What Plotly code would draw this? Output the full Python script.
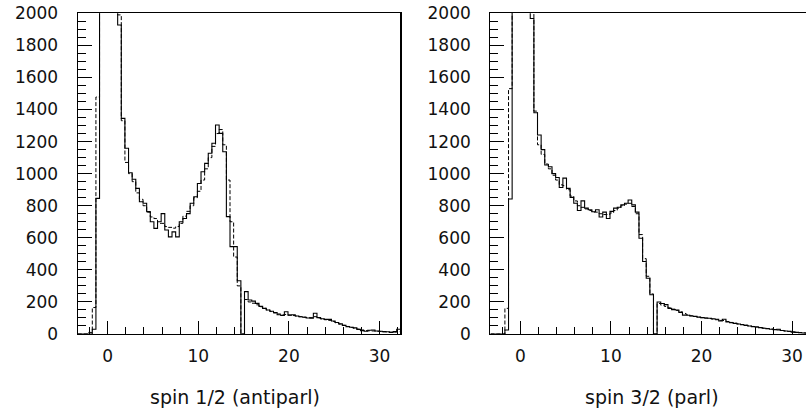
import numpy as np
import plotly.graph_objects as go

# ---------------- data ----------------
bin_lo = -3.3
bin_w = 0.4
n_bins = 89
edges = bin_lo + bin_w * np.arange(n_bins + 1)

left_solid = [0, 0, 0, 0, 30, 846, 2600, 3400, 3300, 2800, 2200, 1927, 1345, 1158, 1006,
              965, 908, 825, 815, 763, 700, 659, 700, 751, 649, 606, 637, 606, 700, 720,
              751, 815, 856, 939, 1012, 1064, 1127, 1190, 1303, 1251, 1137, 732, 545, 545,
              332, 0, 264, 212, 205, 191, 172, 160, 150, 142, 133, 120, 115, 139, 118, 120,
              112, 108, 104, 100, 98, 129, 102, 95, 91, 91, 81, 72, 63, 54, 46, 42, 38, 29,
              21, 17, 23, 25, 19, 17, 15, 14, 10, 15, 30]
left_dashed = [0, 0, 0, 10, 165, 1478, 2400, 3200, 3400, 2900, 2300, 1990, 1330, 1070, 1000,
               950, 880, 840, 800, 760, 730, 720, 690, 690, 670, 665, 660, 670, 690, 735,
               765, 800, 850, 890, 960, 1030, 1100, 1170, 1250, 1275, 1180, 960, 700, 480,
               300, 0, 215, 200, 192, 182, 170, 160, 150, 140, 132, 125, 120, 122, 118, 115,
               112, 108, 105, 103, 102, 108, 100, 94, 89, 85, 78, 70, 62, 54, 47, 41, 36, 30,
               25, 21, 20, 19, 17, 16, 14, 12, 11, 12, 15]
right_solid = [0, 0, 0, 0, 25, 842, 2500, 3500, 3600, 3000, 2300, 1968, 1380, 1241, 1150,
               1054, 1043, 1000, 976, 914, 972, 908, 852, 815, 770, 830, 785, 775, 762, 775,
               730, 760, 720, 765, 785, 790, 805, 815, 836, 805, 760, 597, 452, 348, 245, 0,
               200, 190, 183, 160, 152, 150, 135, 118, 117, 112, 110, 105, 102, 100, 98, 95,
               92, 82, 92, 75, 70, 66, 62, 58, 54, 50, 46, 44, 40, 36, 33, 30, 27, 30, 22, 19,
               17, 12, 10, 8, 6, 5, 4]
right_dashed = [0, 0, 0, 0, 160, 1530, 2400, 3300, 3500, 3100, 2400, 2050, 1390, 1180, 1120,
                1060, 1030, 990, 960, 930, 925, 900, 860, 830, 800, 790, 780, 770, 760, 760,
                750, 745, 745, 755, 770, 785, 800, 810, 815, 795, 750, 620, 470, 360, 250, 0,
                190, 180, 172, 163, 155, 147, 138, 128, 120, 114, 109, 105, 102, 99, 96, 93,
                89, 85, 84, 78, 72, 67, 63, 59, 55, 51, 47, 44, 40, 37, 34, 31, 28, 25, 22, 19,
                16, 13, 11, 9, 7, 6, 5]

titles = ["spin 1/2 (antiparl)", "spin 3/2 (parl)"]
x_tickvals = [0, 10, 20, 30]
y_tickvals = list(range(0, 2001, 200))

for arr in (left_solid, left_dashed, right_solid, right_dashed):
    assert len(arr) == n_bins, len(arr)

# ---------------- layout geometry (window pixels) ----------------
W, H = 806, 410
px_per_unit = 9.06
left_x0 = 77.8
left_x1 = left_x0 + px_per_unit * (edges[-1] - edges[0])
right_x0 = 490.4
right_x1 = W
right_hi = bin_lo + (right_x1 - right_x0) / px_per_unit
y_top, y_bot = 13.3, 334.0

FONT = "DejaVu Sans"

fig = go.Figure()

def add_hist(vals, xa, ya, dash):
    fig.add_trace(go.Scatter(
        x=list(edges), y=list(vals) + [vals[-1]],
        mode="lines", line=dict(shape="hv", color="black",
                                width=1.1 if dash == "solid" else 1.0, dash=dash),
        xaxis=xa, yaxis=ya, showlegend=False, hoverinfo="skip"))

add_hist(left_dashed, "x", "y", "4px,2px")
add_hist(left_solid, "x", "y", "solid")
add_hist(right_dashed, "x2", "y2", "4px,2px")
add_hist(right_solid, "x2", "y2", "solid")

ydom = [1 - y_bot / H, 1 - y_top / H]

def xaxis_cfg(x0, x1, rng):
    return dict(
        domain=[x0 / W, min(x1 / W, 1.0)], range=rng, showgrid=False, zeroline=False,
        showline=True, linecolor="black", linewidth=1.2, mirror=True, automargin=False,
        ticks="inside", ticklen=13, tickwidth=1, tickcolor="black",
        tickvals=x_tickvals, ticktext=[str(v) for v in x_tickvals],
        minor=dict(dtick=2, tick0=0, ticks="inside", ticklen=7, tickwidth=1, tickcolor="black"),
        tickfont=dict(family=FONT, size=17, color="#111"), ticklabelstandoff=6,
        ticklabeloverflow="allow", fixedrange=True)

def yaxis_cfg(anchor, mirror):
    return dict(
        domain=ydom, range=[0, 2000], anchor=anchor, showgrid=False, zeroline=False,
        showline=True, linecolor="black", linewidth=1.2, mirror=mirror, automargin=False,
        ticks="inside", ticklen=14, tickwidth=1, tickcolor="black",
        tickvals=y_tickvals, ticktext=[str(v) for v in y_tickvals],
        minor=dict(dtick=50, tick0=0, ticks="inside", ticklen=8, tickwidth=1, tickcolor="black"),
        tickfont=dict(family=FONT, size=17, color="#111"), ticklabelstandoff=15,
        ticklabeloverflow="allow", fixedrange=True)

fig.update_layout(
    template="none",
    width=W, height=H, margin=dict(l=0, r=0, t=0, b=0, pad=0),
    paper_bgcolor="white", plot_bgcolor="white",
    xaxis=dict(anchor="y", **xaxis_cfg(left_x0, left_x1, [edges[0], edges[-1]])),
    yaxis=yaxis_cfg("x", True),
    xaxis2=dict(anchor="y2", **xaxis_cfg(right_x0, right_x1, [bin_lo, right_hi])),
    yaxis2=yaxis_cfg("x2", False),
    annotations=[
        dict(text=titles[0], x=235 / W, y=1 - 397 / H, xref="paper", yref="paper",
             xanchor="center", yanchor="middle", showarrow=False,
             font=dict(family=FONT, size=19, color="#111")),
        dict(text=titles[1], x=651.7 / W, y=1 - 397 / H, xref="paper", yref="paper",
             xanchor="center", yanchor="middle", showarrow=False,
             font=dict(family=FONT, size=19, color="#111")),
    ],
)

# remove the browser's default page margin so the figure sits at the window origin
fig.write_html("out.html",
               config={"displayModeBar": False, "staticPlot": True},
               post_script="document.body.style.margin='0';document.body.style.overflow='hidden';")
